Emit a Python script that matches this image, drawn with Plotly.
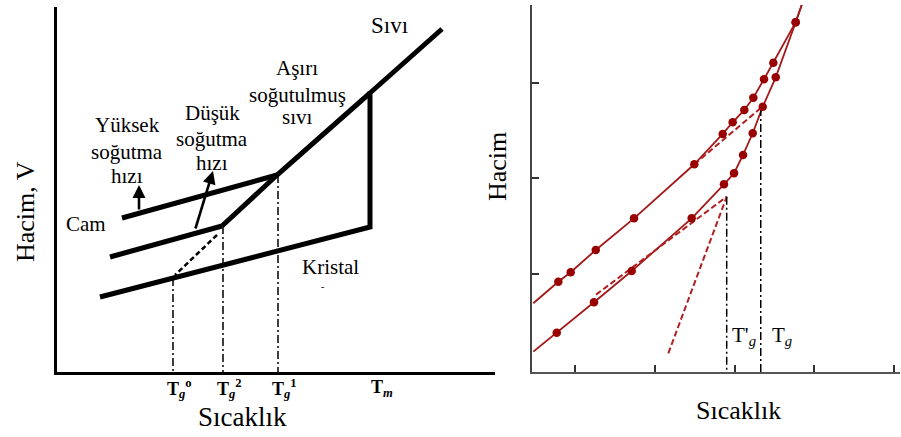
import plotly.graph_objects as go

W, H = 901, 437
FONT = "Liberation Serif"

# ---------------- Left panel (schematic V–T diagram, arbitrary units) ----------------
# liquid -> Tm -> crystal path
liq_cr_x = [38.5, 31.3, 31.3, 4.3]
liq_cr_y = [34.3, 27.9, 14.5, 7.5]
# supercooled liquid
super_x = [31.3, 22.0, 16.5]
super_y = [27.9, 19.7, 14.6]
# glass lines
glass_fast_x = [6.5, 22.0]
glass_fast_y = [15.4, 19.7]
glass_slow_x = [5.3, 16.5]
glass_slow_y = [11.5, 14.6]
# dashed extension to crystal line
ext_x = [16.0, 11.8]
ext_y = [13.7, 9.7]
# transition temperatures and heights of dash-dot drop lines
tg_vals = [11.6, 16.6, 22.1]
tg_tops = [9.4, 14.6, 19.7]
tm_val = 31.3
tick_labels = ["<b>T<sub><i>g</i></sub><sup>o</sup></b>",
               "<b>T<sub><i>g</i></sub><sup>2</sup></b>",
               "<b>T<sub><i>g</i></sub><sup>1</sup></b>",
               "<b>T<sub><i>m</i></sub></b>"]

# ---------------- Right panel (measured curves) ----------------
upper_x = [-0.209, -0.054, 0.260, 0.740, 1.496, 1.852, 1.977, 2.123, 2.236, 2.370, 2.487, 2.767]
upper_y = [0.919, 1.018, 1.251, 1.582, 2.147, 2.464, 2.586, 2.715, 2.843, 3.036, 3.209, 3.632]
lower_x = [-0.229, 0.238, 0.711, 1.463, 1.868, 1.994, 2.107, 2.228, 2.354, 2.517, 2.767]
lower_y = [0.386, 0.704, 1.031, 1.582, 1.938, 2.053, 2.244, 2.471, 2.749, 3.056, 3.632]
upper_start = (-0.523, 0.694)
lower_start = (-0.523, 0.188)
common_end = (2.850, 3.830)
# dashed extrapolations
dash_up_x = [1.496, 2.338]
dash_up_y = [2.147, 2.741]
dash_low_x = [0.264, 1.902]
dash_low_y = [0.784, 1.808]
dash_steep_x = [1.170, 1.902]
dash_steep_y = [0.171, 1.808]
# glass transition markers
tgp_val, tgp_top = 1.902, 1.808
tg_val, tg_top = 2.329, 2.735

RED_LINE = "#A31818"
RED_DOT = "#990000"

fig = go.Figure()

def add_line(x, y, color="black", width=5, dash=None, xa="x", ya="y"):
    fig.add_trace(go.Scatter(x=x, y=y, mode="lines", xaxis=xa, yaxis=ya,
                             line=dict(color=color, width=width, dash=dash),
                             hoverinfo="skip", showlegend=False))

# left
add_line(liq_cr_x, liq_cr_y)
add_line(super_x, super_y)
add_line(glass_fast_x, glass_fast_y)
add_line(glass_slow_x, glass_slow_y)
add_line(ext_x, ext_y, width=2.5, dash="5px,3px")
for tv, tt in zip(tg_vals, tg_tops):
    add_line([tv, tv], [tt, 0], width=1.5, dash="8px,3px,2px,3px")

# right
add_line([upper_start[0]] + upper_x + [common_end[0]], [upper_start[1]] + upper_y + [common_end[1]],
         color=RED_LINE, width=1.8, xa="x2", ya="y2")
add_line([lower_start[0]] + lower_x + [common_end[0]], [lower_start[1]] + lower_y + [common_end[1]],
         color=RED_LINE, width=1.8, xa="x2", ya="y2")
add_line(dash_up_x, dash_up_y, color="#B02020", width=2, dash="6px,3px", xa="x2", ya="y2")
add_line(dash_low_x, dash_low_y, color="#B02020", width=2, dash="6px,3px", xa="x2", ya="y2")
add_line(dash_steep_x, dash_steep_y, color="#B02020", width=2, dash="6px,3px", xa="x2", ya="y2")
add_line([tgp_val, tgp_val], [tgp_top, -0.03], width=1.5, dash="8px,3px,2px,3px", xa="x2", ya="y2")
add_line([tg_val, tg_val], [tg_top, -0.03], width=1.5, dash="8px,3px,2px,3px", xa="x2", ya="y2")
fig.add_trace(go.Scatter(x=upper_x + lower_x, y=upper_y + lower_y, mode="markers",
                         xaxis="x2", yaxis="y2", hoverinfo="skip", showlegend=False,
                         marker=dict(color=RED_DOT, size=8.5, line=dict(width=0))))

ann = []
def txt(t, x, y, size=21, xref="x", yref="y", xanchor="center", yanchor="middle", angle=0):
    ann.append(dict(text=t, x=x, y=y, xref=xref, yref=yref, showarrow=False,
                    xanchor=xanchor, yanchor=yanchor, textangle=angle,
                    font=dict(family=FONT, size=size, color="black")))

# left labels
txt("Sıvı", 33.2, 34.6, size=23)
for s, yy in zip(["Aşırı", "soğutulmuş", "sıvı"], [30.4, 27.7, 25.5]):
    txt(s, 24.0, yy)
for s, yy in zip(["Düşük", "soğutma", "hızı"], [25.9, 23.3, 20.9]):
    txt(s, 15.5, yy)
for s, yy in zip(["Yüksek", "soğutma", "hızı"], [24.7, 22.0, 19.6]):
    txt(s, 7.0, yy)
txt("Cam", 2.9, 14.8)
txt("Kristal", 27.3, 10.5)
txt("-", 26.5, 8.6, size=10)
for lab, xv in zip(tick_labels, [tv - 0.8 for tv in tg_vals] + [tm_val - 0.1]):
    txt(lab, xv, 1 - 388 / H, size=18, yref="paper", xanchor="left")
txt("Sıcaklık", 242 / W, 1 - 417 / H, size=27, xref="paper", yref="paper")
txt("Hacim, V", 25 / W, 1 - 212 / H, size=26, xref="paper", yref="paper", angle=-90)

# right labels
txt("T'<sub><i>g</i></sub>", 1.94, 0.35, size=21, xref="x2", yref="y2", xanchor="left")
txt("T<sub><i>g</i></sub>", 2.44, 0.35, size=21, xref="x2", yref="y2", xanchor="left")
txt("Sıcaklık", 738 / W, 1 - 410 / H, size=26, xref="paper", yref="paper")
txt("Hacim", 497 / W, 1 - 167 / H, size=26, xref="paper", yref="paper", angle=-90)

# arrows
for (hx, hy, tx, ty) in [(8.2, 18.7, 8.2, 16.1), (15.6, 20.1, 13.8, 14.2)]:
    ann.append(dict(x=hx, y=hy, ax=tx, ay=ty, xref="x", yref="y", axref="x", ayref="y",
                    showarrow=True, arrowhead=2, arrowsize=1.0, arrowwidth=2.6,
                    arrowcolor="black", text="", standoff=0))

fig.update_layout(
    width=W, height=H, margin=dict(l=0, r=0, t=0, b=0),
    paper_bgcolor="white", plot_bgcolor="white", showlegend=False,
    annotations=ann,
    xaxis=dict(domain=[57 / W, 495 / W], range=[0, 43.8], showgrid=False, zeroline=False,
               showticklabels=False, ticks="", showline=True, linecolor="black", linewidth=3),
    yaxis=dict(domain=[1 - 372 / H, 1 - 7 / H], range=[0, 36.5], showgrid=False, zeroline=False,
               showticklabels=False, ticks="", showline=True, linecolor="black", linewidth=3),
    xaxis2=dict(domain=[531.7 / W, 900 / W], range=[-0.543, 4.075], anchor="y2",
                showgrid=False, zeroline=False, showticklabels=False,
                tickvals=[0, 1, 2, 3, 4], ticks="inside", ticklen=7, tickwidth=1.5, tickcolor="#333",
                showline=True, linecolor="#555", linewidth=2),
    yaxis2=dict(domain=[1 - 372 / H, 1 - 5 / H], range=[-0.0246, 3.812], anchor="x2",
                showgrid=False, zeroline=False, showticklabels=False,
                tickvals=[1, 2, 3], ticks="inside", ticklen=7, tickwidth=1.5, tickcolor="#333",
                showline=True, linecolor="#444", linewidth=2),
)

fig.write_html("out.html")
